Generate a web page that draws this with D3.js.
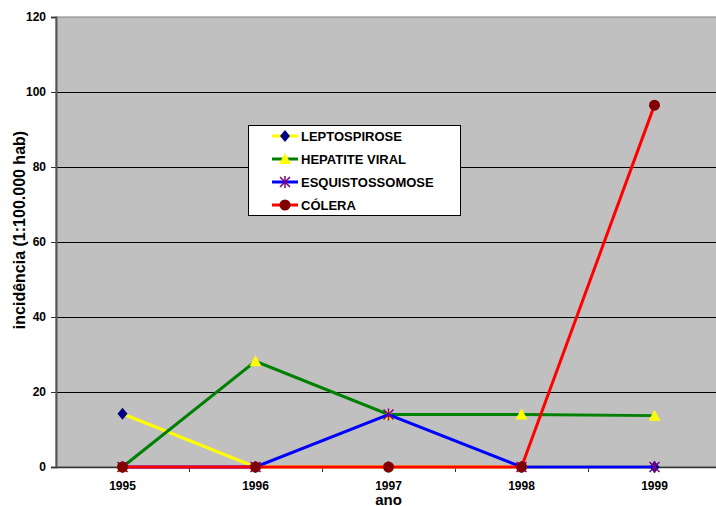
<!DOCTYPE html>
<html><head><meta charset="utf-8">
<script src="https://cdn.jsdelivr.net/npm/d3@7"></script>
<style>body{margin:0;background:#fff}svg{display:block;font-family:Arial,"Liberation Sans",sans-serif}</style>
</head><body><svg id="c" width="716" height="506"></svg>
<script>
const years = ["1995","1996","1997","1998","1999"];
const yTicks = [0,20,40,60,80,100,120];
const leptospirose = [14.2,0,0,0,0];
const hepatite = [0,28.2,14,14,13.7];
const esquisto = [0,0,14,0,0];
const colera = [0,0,0,0,96.5];
const seriesNames = ["LEPTOSPIROSE","HEPATITE VIRAL","ESQUISTOSSOMOSE","CÓLERA"];
const seriesData = [leptospirose, hepatite, esquisto, colera];
const lineColors = ["#ffff00","#008000","#0000ff","#ff0000"];
const markerTypes = ["diamond","triangle","asterisk","circle"];

(function(){
const svg = d3.select("#c");
const pLeft=56, pTop=17, plotW=665, pBottom=467;
const x = d3.scaleBand().domain(years).range([pLeft,pLeft+plotW]).paddingInner(0).paddingOuter(0);
const y = d3.scaleLinear().domain([0,120]).range([pBottom,pTop]);
const cx = d => x(d)+x.bandwidth()/2;

svg.append("rect").attr("x",pLeft).attr("y",pTop).attr("width",plotW).attr("height",pBottom-pTop)
  .attr("fill","#c0c0c0").attr("stroke","#808080").attr("stroke-width",1);

// gridlines
svg.append("g").selectAll("line").data(yTicks.filter(t=>t>0&&t<120)).join("line")
  .attr("x1",pLeft).attr("x2",pLeft+plotW).attr("y1",d=>Math.round(y(d))+0.5).attr("y2",d=>Math.round(y(d))+0.5)
  .attr("stroke","#000").attr("stroke-width",1);

// y axis
const ya = svg.append("g").attr("transform",`translate(${pLeft},0)`)
  .call(d3.axisLeft(y).tickValues(yTicks).tickSize(5).tickPadding(5));
ya.select(".domain").attr("stroke","#555").attr("stroke-width",2);
ya.selectAll(".tick line").attr("stroke","#333");
ya.selectAll("text").attr("font-size","12px").attr("font-weight","bold").attr("fill","#000");

// x axis
const xa = svg.append("g").attr("transform",`translate(0,${pBottom})`)
  .call(d3.axisBottom(x).tickSize(0).tickPadding(14));
xa.select(".domain").attr("stroke","#333").attr("stroke-width",1.5);
xa.selectAll("text").attr("font-size","12px").attr("font-weight","bold").attr("fill","#000");
// category separator ticks
svg.append("g").selectAll("line").data(years.slice(1)).join("line")
  .attr("x1",d=>x(d)+0.5).attr("x2",d=>x(d)+0.5).attr("y1",pBottom).attr("y2",pBottom+5)
  .attr("stroke","#333");

// titles
svg.append("text").attr("transform",`translate(25,230) rotate(-90)`).attr("text-anchor","middle")
  .attr("font-size","16px").attr("font-weight","bold").text("incidência (1:100.000 hab)");
svg.append("text").attr("x",cx("1997")).attr("y",505).attr("text-anchor","middle")
  .attr("font-size","15px").attr("font-weight","bold").text("ano");

function marker(g,type,px,py){
  if(type==="diamond"){
    g.append("path").attr("d",`M${px},${py-6}L${px+5},${py}L${px},${py+6}L${px-5},${py}Z`).attr("fill","#000080");
  } else if(type==="triangle"){
    g.append("path").attr("d",`M${px},${py-6}L${px+6},${py+5}L${px-6},${py+5}Z`).attr("fill","#ffff00");
  } else if(type==="asterisk"){
    g.append("path").attr("d",`M${px-5},${py-5}L${px+5},${py+5}M${px-5},${py+5}L${px+5},${py-5}M${px},${py-6}L${px},${py+6}`)
      .attr("stroke","#800080").attr("stroke-width",1.5).attr("fill","none");
  } else {
    g.append("circle").attr("cx",px).attr("cy",py).attr("r",5.5).attr("fill","#800000");
  }
}

const line = d3.line().x((d,i)=>cx(years[i])).y(d=>y(d));
seriesData.forEach((data,s)=>{
  const g = svg.append("g");
  g.append("path").attr("d",line(data)).attr("fill","none").attr("stroke",lineColors[s]).attr("stroke-width",3);
  data.forEach((v,i)=>marker(g,markerTypes[s],cx(years[i]),y(v)));
});

// legend
const lg = svg.append("g");
lg.append("rect").attr("x",248.5).attr("y",125.5).attr("width",212).attr("height",90).attr("fill","#fff").attr("stroke","#000");
seriesNames.forEach((n,i)=>{
  const yy = 136 + i*23;
  const g = lg.append("g");
  g.append("line").attr("x1",272).attr("x2",298).attr("y1",yy).attr("y2",yy).attr("stroke",lineColors[i]).attr("stroke-width",3);
  marker(g,markerTypes[i],285,yy);
  g.append("text").attr("x",301).attr("y",yy+4.5).attr("font-size","13px").attr("font-weight","bold").text(n);
});
})();
</script></body></html>
